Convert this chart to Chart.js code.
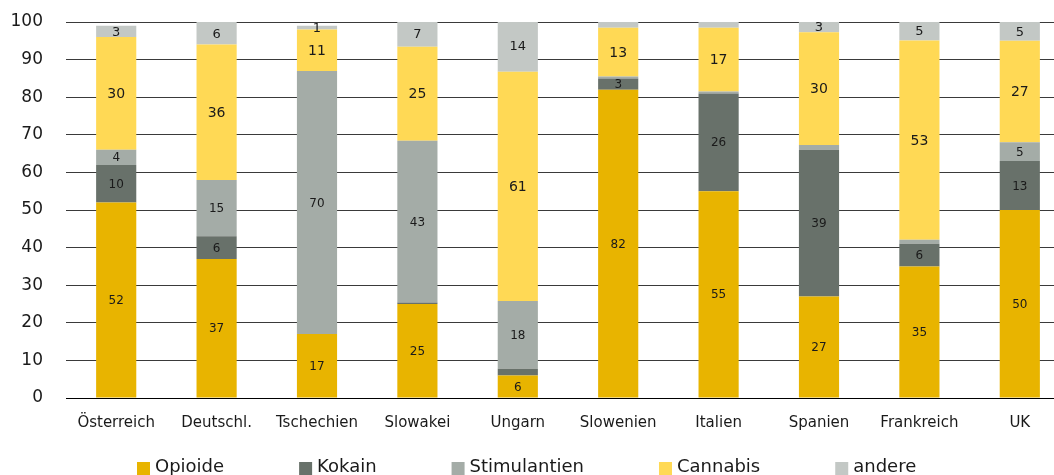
<!DOCTYPE html>
<html>
<head>
<meta charset="utf-8">
<script src="https://cdn.jsdelivr.net/npm/chart.js@4"></script>
<style>
  html, body { margin: 0; padding: 0; background: #fff; overflow: hidden; }
  canvas { display: block; }
</style>
</head>
<body>
<canvas id="drugChart" width="1070" height="475"></canvas>
<script>
// Shares (%) per country, stacked to ~100
const categories = ['Österreich', 'Deutschl.', 'Tschechien', 'Slowakei', 'Ungarn',
                    'Slowenien', 'Italien', 'Spanien', 'Frankreich', 'UK'];
const opioide      = [52, 37, 17, 25, 6, 82, 55, 27, 35, 50];
// unlabelled slivers are kept as fractional estimates
const kokain       = [10, 6, 0, 0.4, 1.8, 3, 26, 39, 6, 13];
const stimulantien = [4, 15, 70, 43, 18, 0.5, 0.5, 1.3, 1.1, 5];
const cannabis     = [30, 36, 11, 25, 61, 13, 17, 30, 53, 27];
const andere       = [3, 6, 1, 7, 14, 1.5, 1.8, 3, 5, 5];
const yTicks = [0, 10, 20, 30, 40, 50, 60, 70, 80, 90, 100];

const FONT = '"DejaVu Sans", Verdana, sans-serif';

// Numbers in the middle of each segment (only the labelled, whole values)
const segmentLabels = {
    id: 'segmentLabels',
    afterDatasetsDraw(chart) {
        const ctx = chart.ctx;
        ctx.save();
        ctx.fillStyle = '#1a1a1a';
        ctx.textAlign = 'center';
        ctx.textBaseline = 'middle';
        chart.data.datasets.forEach((ds, di) => {
            const meta = chart.getDatasetMeta(di);
            ctx.font = (ds.labelSize || 12) + 'px ' + FONT;
            meta.data.forEach((bar, i) => {
                const v = ds.data[i];
                if (!v || !Number.isInteger(v)) return;
                const { x, y, base } = bar.getProps(['x', 'y', 'base'], true);
                ctx.fillText(String(v), x, (y + base) / 2 + 1);
            });
        });
        ctx.restore();
    }
};

// Legend row along the bottom edge
const bottomLegend = {
    id: 'bottomLegend',
    afterDraw(chart) {
        const ctx = chart.ctx;
        ctx.save();
        ctx.font = '18px ' + FONT;
        ctx.textBaseline = 'alphabetic';
        let x = 137;
        chart.data.datasets.forEach(ds => {
            ctx.fillStyle = ds.backgroundColor;
            ctx.fillRect(x, 462, 13, 13);
            ctx.fillStyle = '#1a1a1a';
            ctx.fillText(ds.label, x + 18, 472);
            x += 18 + ctx.measureText(ds.label).width + 75;
        });
        ctx.restore();
    }
};

const ctx = document.getElementById('drugChart').getContext('2d');
const drugChart = new Chart(ctx, {
    type: 'bar',
    data: {
        labels: categories,
        datasets: [
            { label: 'Opioide',      data: opioide,      backgroundColor: '#E8B400' },
            { label: 'Kokain',       data: kokain,       backgroundColor: '#68716A' },
            { label: 'Stimulantien', data: stimulantien, backgroundColor: '#A4ACA7' },
            { label: 'Cannabis',     data: cannabis,     backgroundColor: '#FFD955', labelSize: 14 },
            { label: 'andere',       data: andere,       backgroundColor: '#C3C8C5', labelSize: 13 }
        ]
    },
    options: {
        responsive: false,
        animation: false,
        layout: { padding: { top: 22, right: 0, bottom: 44, left: 0 } },
        datasets: {
            bar: { barPercentage: 0.4, categoryPercentage: 1, borderWidth: 0 }
        },
        scales: {
            x: {
                stacked: true,
                grid: { display: false },
                border: { display: false },
                afterFit(scale) {
                    scale.height = 33;
                    scale.paddingLeft = 0;
                    scale.paddingRight = 0;
                },
                ticks: {
                    color: '#1a1a1a',
                    font: { family: FONT, size: 15 },
                    padding: 8,
                    maxRotation: 0,
                    autoSkip: false
                }
            },
            y: {
                stacked: true,
                min: 0,
                max: 100,
                afterBuildTicks(scale) {
                    scale.ticks = yTicks.map(v => ({ value: v }));
                },
                afterFit(scale) {
                    scale.width = 66;
                    scale.paddingTop = 0;
                    scale.paddingBottom = 0;
                },
                grid: {
                    drawTicks: false,
                    lineWidth: 1,
                    color: c => (c.tick && c.tick.value === 0) ? '#000' : '#3a3a3a'
                },
                border: { display: false },
                ticks: {
                    color: '#1a1a1a',
                    font: { family: FONT, size: 17 },
                    padding: 23
                }
            }
        },
        plugins: {
            legend: { display: false },
            tooltip: { enabled: false }
        }
    },
    plugins: [segmentLabels, bottomLegend]
});
</script>
</body>
</html>
